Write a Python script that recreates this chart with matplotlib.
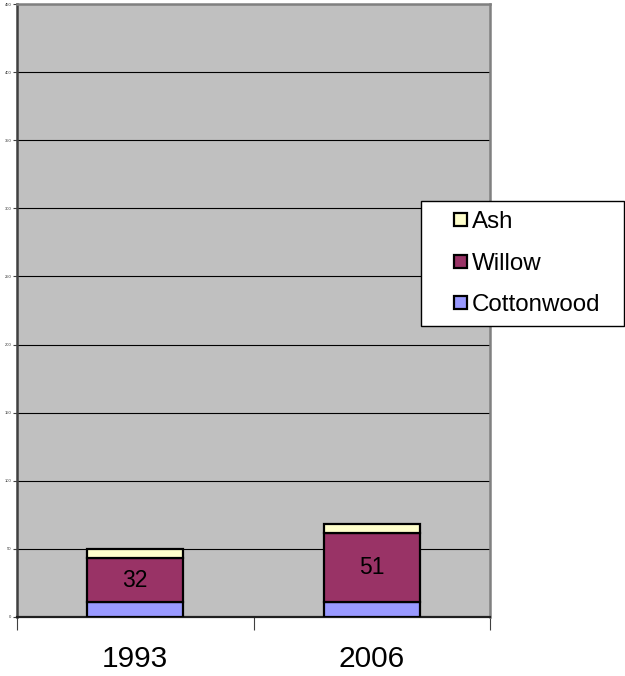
import matplotlib
matplotlib.use("Agg")
import matplotlib.pyplot as plt
import matplotlib.patches as mpatches
from matplotlib.legend_handler import HandlerPatch
import numpy as np

plt.rcParams["font.family"] = ["Liberation Sans", "DejaVu Sans"]

years = ["1993", "2006"]
cottonwood = [11, 11]
willow = [32, 51]
ash = [7, 6]

series_names = ["Cottonwood", "Willow", "Ash"]
series_colors = ["#9999FF", "#993366", "#FFFFCC"]

y_ticks = [0, 50, 100, 150, 200, 250, 300, 350, 400, 450]


def small_square(legend, orig_handle, xdescent, ydescent, width, height, fontsize):
    # small square key pushed to the right of the handle box
    s = 9.4
    return mpatches.Rectangle((-xdescent + width - s, -ydescent + (height - s) / 2), s, s)


fig = plt.figure(figsize=(6.25, 6.76), dpi=100)
ax = fig.add_axes([17 / 625, 59 / 676, 473 / 625, 613 / 676])
ax.set_facecolor("#C0C0C0")

x = np.arange(len(years))
width = 0.405
bottom = np.zeros(len(years))
for vals, color in zip([cottonwood, willow, ash], series_colors):
    ax.bar(x, vals, width, bottom=bottom, color=color, edgecolor="black",
           linewidth=1.6, zorder=3)
    bottom += np.array(vals)

# value labels on the willow segment
for i, v in enumerate(willow):
    ax.text(x[i], cottonwood[i] + v / 2, str(v), ha="center", va="center",
            fontsize=16.5, color="black", zorder=4)

ax.set_xlim(-0.5, len(years) - 0.5)
ax.set_ylim(0, 450)

# gridlines
ax.set_yticks(y_ticks)
ax.set_yticklabels([str(t) for t in y_ticks], fontsize=3, color="#333333")
ax.yaxis.grid(True, color="black", linewidth=0.8, zorder=1)
ax.set_axisbelow(True)
ax.tick_params(axis="y", length=3, width=0.8, pad=1, color="#404040")

# category boundary ticks and category labels
ax.set_xticks(np.arange(-0.5, len(years), 1.0))
ax.set_xticklabels([])
ax.set_xticks(x, minor=True)
ax.set_xticklabels(years, minor=True, fontsize=21.5)
ax.tick_params(axis="x", which="major", length=9, width=0.8, color="#404040")
ax.tick_params(axis="x", which="minor", length=0, pad=20)

ax.spines["left"].set_color("#404040")
ax.spines["left"].set_linewidth(1.8)
ax.spines["bottom"].set_color("#202020")
ax.spines["bottom"].set_linewidth(1.6)
ax.spines["top"].set_color("#808080")
ax.spines["top"].set_linewidth(1.8)
ax.spines["right"].set_color("#808080")
ax.spines["right"].set_linewidth(1.8)

handles = [mpatches.Patch(facecolor=c, edgecolor="black", linewidth=1.6, label=n)
           for n, c in zip(series_names, series_colors)][::-1]
leg = fig.legend(handles=handles, loc="upper left",
                 bbox_to_anchor=(421 / 625, 0, 203 / 625, 1 - 201 / 676),
                 mode="expand",
                 handler_map={mpatches.Patch: HandlerPatch(patch_func=small_square)},
                 fontsize=17.4, frameon=True, fancybox=False, framealpha=1,
                 handlelength=1.5, handleheight=0.55, handletextpad=0.2,
                 labelspacing=0.81, borderpad=0.42, borderaxespad=0)
leg.get_frame().set_edgecolor("black")
leg.get_frame().set_linewidth(1.0)
leg.get_frame().set_facecolor("white")

fig.savefig("out.png", dpi=100)
